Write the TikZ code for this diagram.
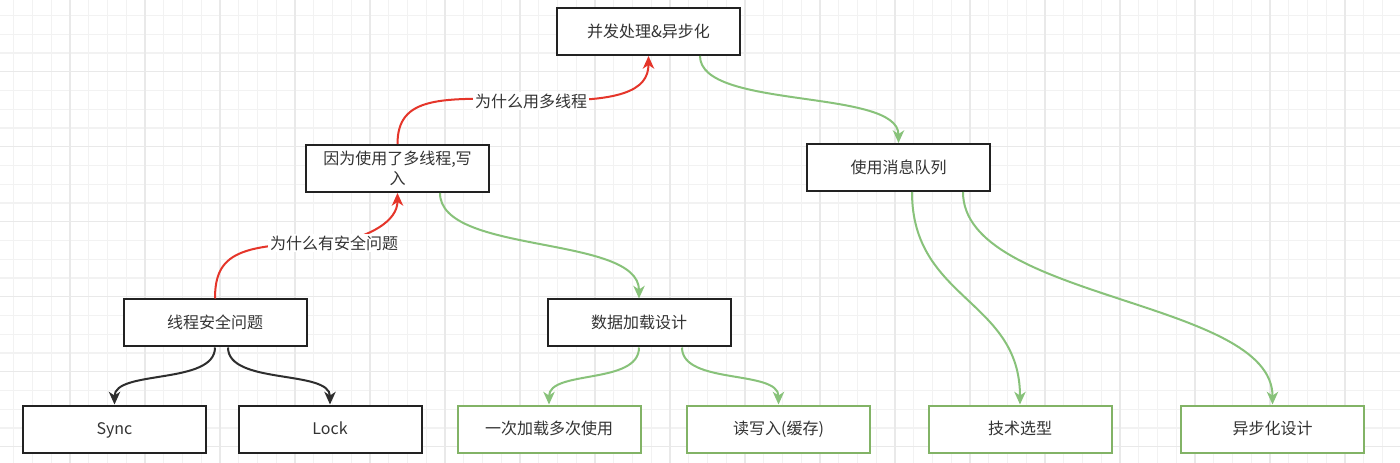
\documentclass[tikz,border=0pt]{standalone}
\usepackage{fontspec}
\setmainfont{Noto Sans CJK SC}
\usetikzlibrary{arrows.meta,calc}
\definecolor{ink}{HTML}{333333}
\definecolor{boxblack}{HTML}{222222}
\definecolor{boxgreen}{HTML}{82B366}
\definecolor{edgegreen}{HTML}{88C27A}
\definecolor{edgered}{HTML}{E5352A}
\definecolor{edgeblack}{HTML}{2E2E2E}
\definecolor{gridminor}{HTML}{F2F2F2}
\definecolor{gridmajor}{HTML}{E9E9E9}
\begin{document}
\begin{tikzpicture}[x=0.75pt,y=-0.75pt,
  txt/.style={font=\fontsize{12}{15}\selectfont, text=ink},
  boxbase/.style={txt, draw=boxblack, line width=1.5pt, fill=white,
    minimum width=137.25pt, minimum height=35.25pt, inner sep=0pt, align=center},
  box/.style={boxbase, text height=10pt, text depth=1.5pt},
  gbox/.style={box, draw=boxgreen},
  conn/.style={line width=1.5pt, -{Stealth[length=9.5pt,width=8.5pt,inset=2.8pt]}},
  redc/.style={conn, draw=edgered},
  greenc/.style={conn, draw=edgegreen},
  blackc/.style={conn, draw=edgeblack},
  lbl/.style={txt, fill=white, inner sep=1.5pt}
]
\useasboundingbox (0,0) rectangle (1400,463);
\fill[white] (0,0) rectangle (1400,463);
% grid
\foreach \i in {0,...,75} {
  \draw[gridminor, line width=1pt] (-5+18.75*\i,0) -- (-5+18.75*\i,463);
}
\foreach \j in {0,...,25} {
  \draw[gridminor, line width=1pt] (0,-3.3+18.75*\j) -- (1400,-3.3+18.75*\j);
}
\foreach \i in {0,...,19} {
  \draw[gridmajor, line width=1pt] (-5+75*\i,0) -- (-5+75*\i,463);
}
\foreach \j in {0,...,6} {
  \draw[gridmajor, line width=1pt] (0,-3.3+75*\j) -- (1400,-3.3+75*\j);
}

% nodes
\node[box] (top) at (648.5,31.5) {并发处理\&异步化};
\node[boxbase] (mt) at (397.5,168.5) {因为使用了多线程,写\\入};
\node[box] (mq) at (898.5,167.5) {使用消息队列};
\node[box] (safe) at (215,323) {线程安全问题};
\node[box] (data) at (639,323) {数据加载设计};
\node[box] (sync) at (114.5,429) {Sync};
\node[box] (lock) at (330,429) {Lock};
\node[gbox] (once) at (549,429) {一次加载多次使用};
\node[gbox] (rw) at (778.5,429) {读写入(缓存)};
\node[gbox] (tech) at (1020,429) {技术选型};
\node[gbox] (async) at (1272.5,429) {异步化设计};

% red connectors with labels
\draw[redc] (safe.north) .. controls ($(safe.north)+(0,-46)$) and ($(safe.north)+(25,-55)$) .. (334,243)
  .. controls (370,237) and ($(mt.south)+(0,28)$) .. (mt.south);
\node[lbl] (l1) at (334,243) {为什么有安全问题};

\draw[redc] (mt.north) .. controls ($(mt.north)+(0,-48)$) and (440,97) .. (531,100)
  .. controls (620,103) and ($(top.south)+(0,35)$) .. (top.south);
\node[lbl] (l2) at (531,101) {为什么用多线程};

% green connectors
\draw[greenc] ($(top.south)+(51.5,0)$) .. controls (700,110) and ($(mq.north)+(0,-55)$) .. (mq.north);
\draw[greenc] ($(mt.south)+(42.5,0)$) .. controls (440,255) and ($(data.north)+(0,-64)$) .. (data.north);
\draw[greenc] (data.south) .. controls (639,385) and ($(once.north)+(0,-35)$) .. (once.north);
\draw[greenc] ($(data.south)+(43,0)$) .. controls (682,385) and ($(rw.north)+(0,-35)$) .. (rw.north);
\draw[greenc] ($(mq.south)+(13.5,0)$) .. controls (912,300) and ($(tech.north)+(0,-105)$) .. (tech.north);
\draw[greenc] ($(mq.south)+(64.5,0)$) .. controls (963,300) and ($(async.north)+(0,-105)$) .. (async.north);

% black connectors
\draw[blackc] (safe.south) .. controls (215,385) and ($(sync.north)+(0,-35)$) .. (sync.north);
\draw[blackc] ($(safe.south)+(13,0)$) .. controls (228,385) and ($(lock.north)+(0,-35)$) .. (lock.north);
\end{tikzpicture}
\end{document}
